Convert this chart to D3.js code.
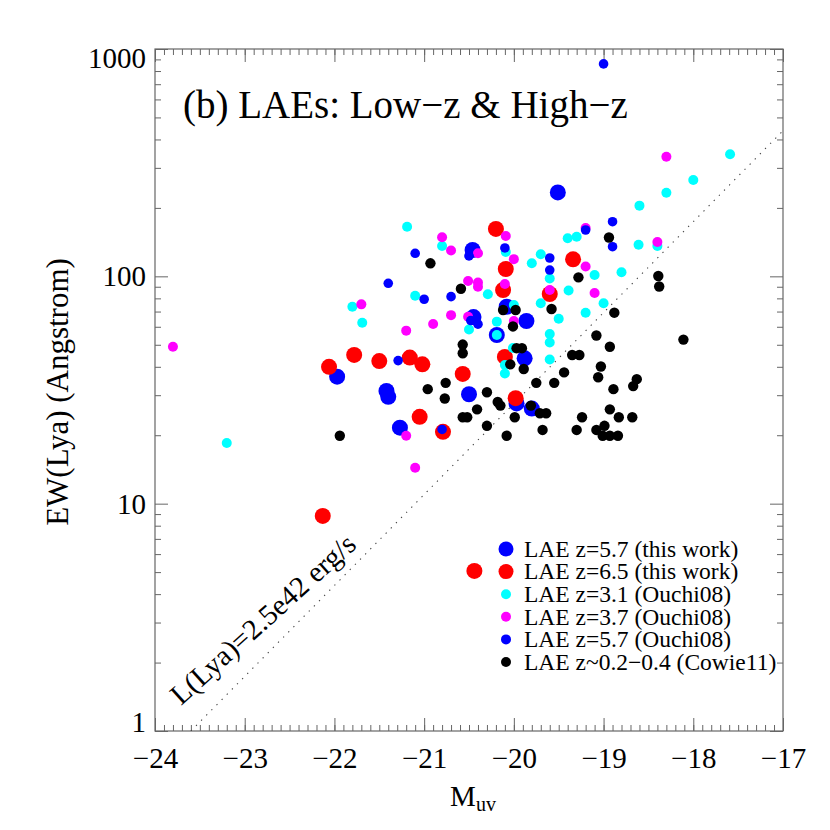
<!DOCTYPE html>
<html>
<head>
<meta charset="utf-8">
<script src="https://cdn.jsdelivr.net/npm/d3@7"></script>
<style>
  body { margin: 0; background: #fff; }
  svg { display: block; }
  text { font-family: "Liberation Serif", "Times New Roman", serif; fill: #000; }
</style>
</head>
<body>
<svg id="chart" width="830" height="830"></svg>
<script>
// values: [M_uv, EW(Lya) in Angstrom]
const z57ThisWork = [[-19.51,234],[-21.97,36.2],[-21.42,31.3],[-21.40,29.5],[-21.27,21.6],[-20.50,30.3],[-20.46,130.6],
  [-20.08,73.5],[-19.86,63.6],[-20.45,66.2],[-20.19,55.2],[-19.88,43.6],[-19.80,26.2],[-19.97,27.6]];
const z65ThisWork = [[-22.13,8.83],[-22.06,40.0],[-21.78,45.1],[-21.50,42.4],[-21.16,43.9],[-21.02,41.0],[-21.05,24.1],
  [-20.79,20.7],[-20.57,37.2],[-20.44,5.06],[-20.20,161.6],[-20.09,107.7],[-20.12,87.1],[-20.10,44.2],[-19.98,29.1],
  [-19.60,83.6],[-19.34,118.8]];
const z31Ouchi = [[-23.20,18.5],[-21.19,165.3],[-20.80,136.0],[-21.80,73.5],[-21.69,62.5],[-21.10,82.2],[-20.50,58.4],
  [-20.09,127.9],[-20.29,83.4],[-20.19,63.2],[-20.19,55.2],[-20.00,74.8],[-19.80,114.1],[-19.70,125.0],[-19.60,97.8],
  [-19.39,86.6],[-19.70,76.1],[-19.50,65.1],[-19.60,55.8],[-19.60,51.2],[-19.60,43.1],[-19.40,147.0],[-19.30,149.4],
  [-19.10,101.4],[-19.20,69.2],[-19.00,76.1],[-18.80,104.2],[-18.61,137.8],[-18.60,204.6],[-18.40,136.0],[-18.30,233.3],
  [-18.00,265.3],[-17.59,344.2],[-20.10,40.7],[-20.10,37.4],[-20.01,48.4]];
const z37Ouchi = [[-23.80,49.0],[-21.70,75.3],[-21.20,57.7],[-20.90,61.7],[-20.70,67.5],[-20.70,129.9],[-20.80,148.5],
  [-20.51,95.4],[-20.51,66.4],[-21.20,19.9],[-21.10,14.4],[-20.40,126.3],[-20.09,150.4],[-20.00,119.0],[-20.40,94.0],
  [-20.40,90.0],[-20.10,92.5],[-20.00,63.6],[-19.60,87.1],[-19.20,110.5],[-19.10,84.5],[-19.20,163.2],[-18.30,335.9],
  [-18.40,141.6]];
const z57Ouchi = [[-21.10,126.3],[-21.40,93.2],[-21.00,79.3],[-20.70,81.4],[-19.00,860],[-18.90,173.9],[-19.20,159.9],
  [-18.90,135.0],[-19.60,120.4],[-19.60,106.6],[-20.10,133.3],[-20.50,122.9],[-20.48,63.9],[-20.40,61.6],[-21.29,42.6],
  [-20.80,21.2]];
const lowzCowie = [[-20.93,114.1],[-20.59,88.2],[-20.57,50.1],[-20.57,45.9],[-21.94,19.9],[-20.96,31.9],[-20.76,34.0],
  [-20.77,29.0],[-20.57,24.0],[-20.52,24.0],[-20.12,71.1],[-19.98,71.1],[-20.01,60.2],[-19.58,71.8],[-19.28,99.0],
  [-18.94,148.2],[-18.88,69.2],[-19.08,54.9],[-18.93,49.0],[-19.97,48.3],[-19.91,48.3],[-19.35,45.1],[-19.27,45.1],
  [-18.39,100.3],[-18.38,90.2],[-18.11,52.7],[-19.03,40.1],[-20.04,41.0],[-19.89,39.1],[-19.44,37.8],[-19.06,36.0],
  [-19.75,34.0],[-19.55,34.0],[-20.30,30.9],[-18.63,35.3],[-18.67,32.9],[-18.89,31.9],[-20.18,28.0],[-20.15,27.0],
  [-19.81,27.0],[-19.71,25.0],[-19.64,25.0],[-20.41,26.0],[-19.99,24.0],[-19.24,24.0],[-18.93,26.0],[-18.83,24.0],
  [-18.68,24.0],[-20.30,22.0],[-19.68,21.1],[-19.30,21.1],[-19.08,21.1],[-18.99,22.0],[-20.08,19.9],[-19.01,19.9],
  [-18.93,19.9],[-18.84,19.9]];

// constant L(Lya) line end points
const lineM = [-23.6, -17];
const lineEW = [1, 437];

const xMajor = [-24, -23, -22, -21, -20, -19, -18, -17];
const xTickLabels = ["\u221224", "\u221223", "\u221222", "\u221221", "\u221220", "\u221219", "\u221218", "\u221217"];
const yMajor = [1, 10, 100, 1000];
const yTickLabels = ["1", "10", "100", "1000"];
const yMinor = [2,3,4,5,6,7,8,9,20,30,40,50,60,70,80,90,200,300,400,500,600,700,800,900];

const legendLabels = ["LAE z=5.7 (this work)", "LAE z=6.5 (this work)", "LAE z=3.1 (Ouchi08)",
  "LAE z=3.7 (Ouchi08)", "LAE z=5.7 (Ouchi08)", "LAE z~0.2\u22120.4 (Cowie11)"];

const series = [
  { data: z57ThisWork, color: "#0000ff", r: 8 },
  { data: z65ThisWork, color: "#ff0000", r: 8 },
  { data: z31Ouchi, color: "#00ffff", r: 5 },
  { data: z37Ouchi, color: "#ff00ff", r: 5 },
  { data: z57Ouchi, color: "#0000ff", r: 4.8 },
  { data: lowzCowie, color: "#000000", r: 5.2 }
];

const plotLeft = 155, plotRight = 783, plotTop = 49, plotBottom = 731;
const axisColor = "#666";

const x = d3.scaleLinear().domain([-24, -17]).range([plotLeft, plotRight]);
const y = d3.scaleLog().domain([1, 1000]).range([plotBottom, plotTop]);

const svg = d3.select("#chart");

svg.append("defs").append("clipPath").attr("id", "plotclip")
  .append("rect").attr("x", plotLeft).attr("y", plotTop)
  .attr("width", plotRight - plotLeft).attr("height", plotBottom - plotTop);

function styleAxis(g) {
  g.select(".domain").remove();
  g.selectAll("line").attr("stroke", axisColor).attr("stroke-width", 1);
}

const xMinor = d3.range(-24, -16.99, 0.1);

// bottom axis
svg.append("g").attr("transform", `translate(0,${plotBottom})`)
  .call(d3.axisBottom(x).tickValues(xMinor).tickSize(-6).tickFormat(""))
  .call(styleAxis);
const xb = svg.append("g").attr("transform", `translate(0,${plotBottom})`)
  .call(d3.axisBottom(x).tickValues(xMajor).tickSize(-13).tickPadding(16).tickFormat((d, i) => xTickLabels[i]))
  .call(styleAxis);
xb.selectAll("text").attr("font-size", 29).attr("font-family", "Liberation Serif, serif").attr("fill", "#000");

// top axis
svg.append("g").attr("transform", `translate(0,${plotTop})`)
  .call(d3.axisTop(x).tickValues(xMinor).tickSize(-6).tickFormat(""))
  .call(styleAxis);
svg.append("g").attr("transform", `translate(0,${plotTop})`)
  .call(d3.axisTop(x).tickValues(xMajor).tickSize(-13).tickFormat(""))
  .call(styleAxis);

// left axis
svg.append("g").attr("transform", `translate(${plotLeft},0)`)
  .call(d3.axisLeft(y).tickValues(yMinor).tickSize(-6).tickFormat(""))
  .call(styleAxis);
const yl = svg.append("g").attr("transform", `translate(${plotLeft},0)`)
  .call(d3.axisLeft(y).tickValues(yMajor).tickSize(-13).tickPadding(9).tickFormat((d, i) => yTickLabels[i]))
  .call(styleAxis);
yl.selectAll("text").attr("font-size", 29).attr("font-family", "Liberation Serif, serif").attr("fill", "#000")
  .attr("dy", d => d === 1000 ? "0.64em" : d === 1 ? "0em" : "0.33em");

// right axis
svg.append("g").attr("transform", `translate(${plotRight},0)`)
  .call(d3.axisRight(y).tickValues(yMinor).tickSize(-6).tickFormat(""))
  .call(styleAxis);
svg.append("g").attr("transform", `translate(${plotRight},0)`)
  .call(d3.axisRight(y).tickValues(yMajor).tickSize(-13).tickFormat(""))
  .call(styleAxis);

// frame
svg.append("rect").attr("x", plotLeft).attr("y", plotTop)
  .attr("width", plotRight - plotLeft).attr("height", plotBottom - plotTop)
  .attr("fill", "none").attr("stroke", axisColor).attr("stroke-width", 1.2);

// constant luminosity line
const lineData = lineM.map((m, i) => [m, lineEW[i]]);
svg.append("path")
  .datum(lineData)
  .attr("clip-path", "url(#plotclip)")
  .attr("fill", "none")
  .attr("stroke", "#444")
  .attr("stroke-width", 1.1)
  .attr("stroke-dasharray", "1.3,6")
  .attr("d", d3.line().x(d => x(d[0])).y(d => y(d[1])));

// points
series.forEach(s => {
  svg.append("g").selectAll("circle")
    .data(s.data)
    .join("circle")
    .attr("cx", d => x(d[0]))
    .attr("cy", d => y(d[1]))
    .attr("r", s.r)
    .attr("fill", s.color);
});

// title
svg.append("text").attr("x", 183).attr("y", 118).attr("font-size", 39)
  .text("(b) LAEs: Low\u2212z & High\u2212z");

// line label
svg.append("text")
  .attr("transform", "translate(181,706) rotate(-42)")
  .attr("font-size", 29)
  .text("L(Lya)=2.5e42 erg/s");

// axis titles
svg.append("text")
  .attr("transform", "translate(68,392) rotate(-90)")
  .attr("text-anchor", "middle")
  .attr("font-size", 31)
  .text("EW(Lya) (Angstrom)");

const xt = svg.append("text").attr("x", 473).attr("y", 806).attr("text-anchor", "middle").attr("font-size", 29);
xt.append("tspan").text("M");
xt.append("tspan").attr("font-size", 20).attr("dy", 5).text("uv");

// legend
const legendX = 506, legendY = 549, legendStep = 22.6;
const legend = svg.append("g");
series.forEach((s, i) => {
  legend.append("circle")
    .attr("cx", legendX)
    .attr("cy", legendY + i * legendStep)
    .attr("r", s.r >= 8 ? 7.5 : 5)
    .attr("fill", s.color);
  legend.append("text")
    .attr("x", legendX + 18)
    .attr("y", legendY + i * legendStep + 7.8)
    .attr("font-size", 23.5)
    .text(legendLabels[i]);
});
</script>
</body>
</html>
